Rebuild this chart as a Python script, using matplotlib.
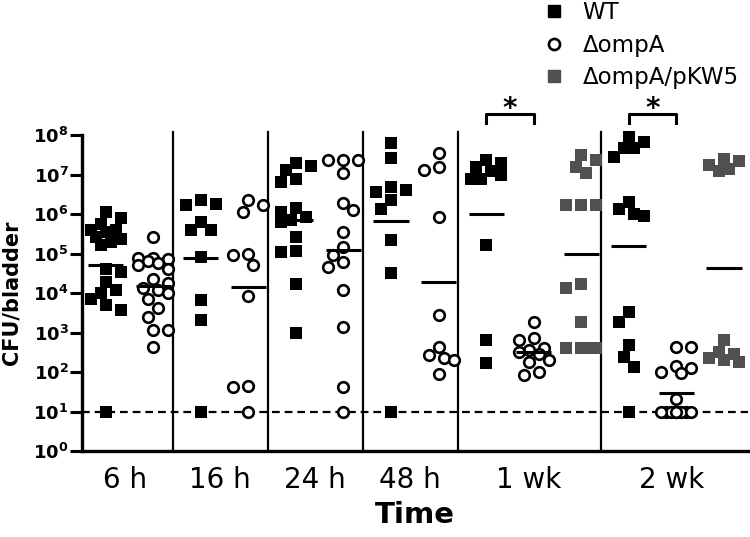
import matplotlib
matplotlib.use('Agg')
import matplotlib.pyplot as plt
from matplotlib.lines import Line2D
from matplotlib.ticker import NullLocator
import numpy as np

plt.rcParams['font.family'] = ['DejaVu Sans']
plt.rcParams['mathtext.fontset'] = 'dejavusans'

# log10(CFU/bladder)
times = ['6 h', '16 h', '24 h', '48 h', '1 wk', '2 wk']
strains = ['WT', 'ΔompA', 'ΔompA/pKW5']

wt_6h = [6.05, 5.9, 5.75, 5.6, 5.6, 5.55, 5.43, 5.38, 5.3, 5.22, 4.62, 4.54,
         4.29, 4.08, 3.99, 3.86, 3.7, 3.57, 1.0]
ompa_6h = [5.43, 4.9, 4.88, 4.85, 4.8, 4.75, 4.7, 4.62, 4.35, 4.25, 4.12, 4.08,
           4.0, 3.86, 3.61, 3.4, 3.06, 3.06, 2.64]
wt_16h = [6.35, 6.25, 6.22, 5.8, 5.6, 5.6, 4.92, 3.82, 3.32, 1.0]
ompa_16h = [6.35, 6.23, 6.06, 5.0, 4.96, 4.7, 3.93, 1.65, 1.63, 1.0]
wt_24h = [7.28, 7.22, 7.11, 6.9, 6.82, 6.15, 6.05, 5.93, 5.85, 5.8, 5.43, 5.07,
          5.05, 4.24, 3.0]
ompa_24h = [7.37, 7.37, 7.37, 7.03, 6.27, 6.1, 5.55, 5.17, 4.96, 4.79, 4.67,
            4.08, 3.15, 1.63, 1.0]
wt_48h = [7.79, 7.41, 6.69, 6.6, 6.55, 6.35, 6.14, 5.34, 4.5, 1.0]
ompa_48h = [7.54, 7.2, 7.11, 5.93, 3.44, 2.64, 2.42, 2.35, 2.3, 1.95]
wt_1wk = [7.37, 7.3, 7.2, 7.1, 7.0, 6.9, 6.9, 5.22, 2.81, 2.22]
ompa_1wk = [3.27, 2.85, 2.8, 2.6, 2.55, 2.5, 2.45, 2.3, 2.25, 2.0, 1.92]
comp_1wk = [7.49, 7.37, 7.2, 7.03, 6.23, 6.23, 6.23, 4.24, 4.12, 3.27, 2.6,
            2.6, 2.6, 2.6]
wt_2wk = [7.96, 7.83, 7.66, 7.66, 7.45, 6.31, 6.14, 6.0, 5.95, 3.53, 3.27,
          2.68, 2.39, 2.14, 1.0]
ompa_2wk = [2.64, 2.64, 2.15, 2.1, 2.0, 1.97, 1.33, 1.0, 1.0, 1.0, 1.0, 1.0,
            1.0, 1.0, 1.0, 1.0, 1.0]
comp_2wk = [7.4, 7.35, 7.25, 7.15, 7.1, 2.8, 2.5, 2.45, 2.35, 2.3, 2.25]

detection_limit = 10
group_sizes = [2, 2, 2, 2, 3, 3]

columns = [
    (wt_6h, 0), (ompa_6h, 1),
    (wt_16h, 0), (ompa_16h, 1),
    (wt_24h, 0), (ompa_24h, 1),
    (wt_48h, 0), (ompa_48h, 1),
    (wt_1wk, 0), (ompa_1wk, 1), (comp_1wk, 2),
    (wt_2wk, 0), (ompa_2wk, 1), (comp_2wk, 2),
]

styles = [
    dict(marker='s', s=75, color='black', linewidths=0),
    dict(marker='o', s=58, facecolor='white', edgecolor='black', linewidths=1.9),
    dict(marker='s', s=75, color='#505050', linewidths=0),
]

SLOT_PX = 47.6
DEC_PX = 39.4


def swarm(vals, diam=12.0, step=5.0, maxoff=18.0):
    # simple beeswarm in pixel space, returns x offsets in slot units
    order = np.argsort(vals, kind='stable')[::-1]
    placed = []
    offs = np.zeros(len(vals))
    for n, i in enumerate(order):
        sign = 1 if n % 2 else -1
        cands = [0.0]
        k = 1
        while k * step <= maxoff:
            cands += [sign * k * step, -sign * k * step]
            k += 1
        y = vals[i] * DEC_PX
        best, bestd = 0.0, -1
        for c in cands:
            d = min([np.hypot(c - px, y - py) for px, py in placed] or [99])
            if d >= diam:
                best = c
                break
            if d > bestd:
                best, bestd = c, d
        placed.append((best, y))
        offs[i] = best / SLOT_PX
    return offs


fig = plt.figure(figsize=(7.5, 5.37), dpi=100)
ax = fig.add_axes([0.109, 0.160, 0.888, 0.5885])

for slot, (vals, st) in enumerate(columns):
    v = np.array(vals)
    xs = slot + 0.5 + swarm(v)
    ax.scatter(xs, 10 ** v, zorder=3, clip_on=False, **styles[st])
    ax.plot([slot + 0.13, slot + 0.87], [10 ** v.mean()] * 2, color='black',
            lw=2.2, zorder=4, solid_capstyle='butt')

ax.axhline(detection_limit, color='black', lw=1.6, ls=(0, (3.5, 2.2)), zorder=2)

bounds = np.cumsum(group_sizes)[:-1]
for b in bounds:
    ax.plot([b - 0.09, b - 0.09], [1, 10 ** 8.08], color='black', lw=1.6,
            clip_on=False, zorder=1)

# significance brackets
for start in [8, 11]:
    x1, x2 = start + 0.5, start + 1.5
    ax.plot([x1, x1, x2, x2], [10 ** 8.3, 10 ** 8.53, 10 ** 8.53, 10 ** 8.3],
            color='black', lw=2.2, clip_on=False)
    ax.text((x1 + x2) / 2, 10 ** 8.66, '*', ha='center', va='center',
            fontsize=20, fontweight='bold', clip_on=False)

ax.set_yscale('log')
ax.set_ylim(1, 1e8)
ax.set_xlim(0, 14)
ax.set_yticks([10.0 ** k for k in range(9)])
ax.set_yticklabels([rf'$\mathbf{{10^{{{k}}}}}$' for k in range(9)], fontsize=13)
ax.yaxis.set_minor_locator(NullLocator())

starts = np.concatenate([[0], bounds])
centers = starts + np.array(group_sizes) / 2 - 0.1
ax.set_xticks(centers)
ax.set_xticklabels(times, fontsize=20)
ax.tick_params(axis='x', length=0, pad=11)
ax.tick_params(axis='y', length=8.5, width=2.2, pad=1)

for sp in ['top', 'right']:
    ax.spines[sp].set_visible(False)
for sp in ['left', 'bottom']:
    ax.spines[sp].set_linewidth(2.4)

ax.set_ylabel('CFU/bladder', fontsize=15, fontweight='bold')
ax.yaxis.set_label_coords(-0.091, 0.5)
ax.set_xlabel('Time', fontsize=21, fontweight='bold', labelpad=5)

handles = [
    Line2D([], [], ls='none', marker='s', ms=9, color='black'),
    Line2D([], [], ls='none', marker='o', ms=8, mfc='white', mec='black', mew=1.9),
    Line2D([], [], ls='none', marker='s', ms=9, color='#505050'),
]
fig.legend(handles, strains, loc='upper left', bbox_to_anchor=(0.723, 0.998),
           frameon=False, fontsize=16.5, handlelength=1, handletextpad=0.75,
           labelspacing=0.42, borderpad=0, borderaxespad=0)

fig.savefig('out.png', dpi=100)
